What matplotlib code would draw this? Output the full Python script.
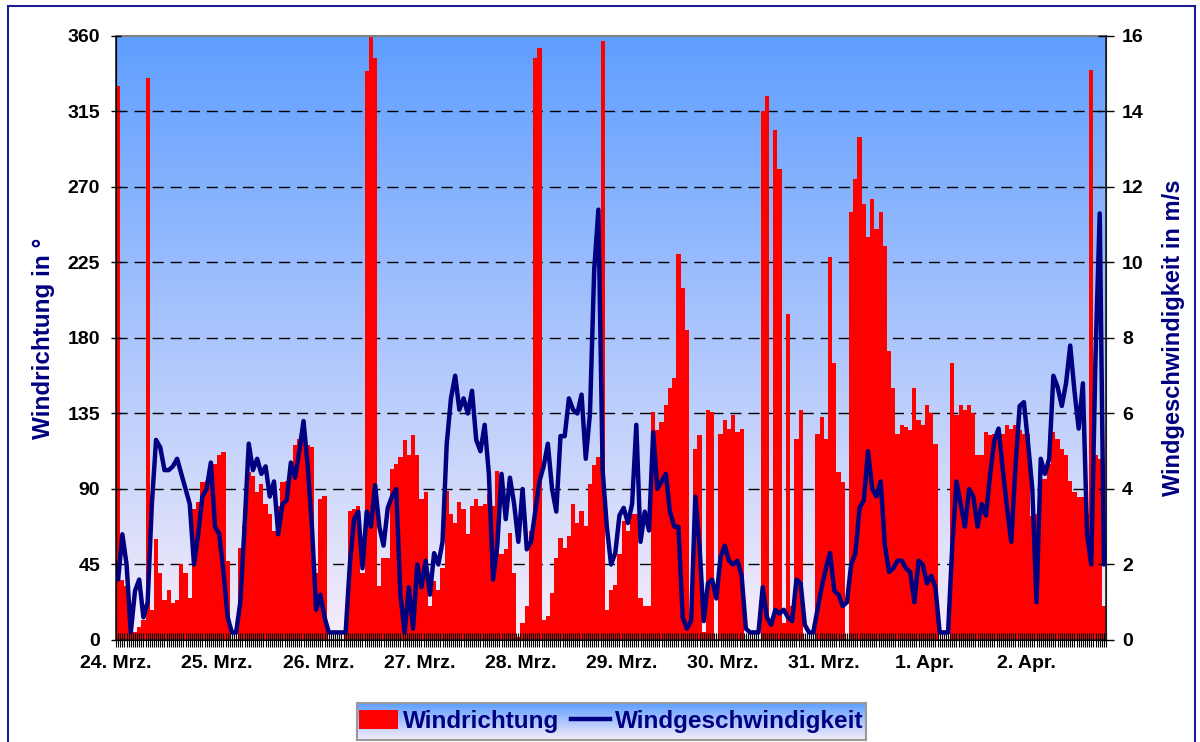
import numpy as np
import matplotlib
matplotlib.use("Agg")
import matplotlib.pyplot as plt
from matplotlib.patches import Rectangle
from matplotlib.ticker import FixedLocator

plt.rcParams['font.family'] = ['Liberation Sans', 'DejaVu Sans']
plt.rcParams['font.weight'] = 'bold'

# hourly values, starting 24. Mrz 00:00
direction = [
    330, 36, 32, 10, 5, 8, 12, 335, 18, 60, 40, 24,
    30, 22, 24, 45, 40, 25, 78, 82, 94, 95, 100, 105,
    110, 112, 47, 0, 0, 55, 68, 100, 98, 88, 93, 81,
    75, 65, 80, 94, 95, 101, 116, 120, 120, 116, 115, 40,
    84, 86, 0, 0, 0, 0, 5, 77, 78, 80, 40, 339,
    360, 347, 32, 49, 49, 102, 105, 109, 119, 110, 122, 110,
    84, 88, 20, 35, 30, 43, 89, 75, 70, 82, 78, 63,
    80, 84, 80, 81, 87, 80, 101, 51, 54, 64, 40, 2,
    10, 20, 65, 347, 353, 12, 14, 28, 49, 61, 55, 62,
    81, 70, 77, 68, 93, 104, 109, 357, 18, 30, 33, 51,
    71, 65, 75, 75, 25, 20, 20, 136, 125, 130, 140, 150,
    156, 230, 210, 185, 14, 114, 122, 5, 137, 136, 0, 123,
    131, 126, 134, 124, 126, 0, 0, 0, 0, 315, 324, 10,
    304, 281, 10, 194, 20, 120, 137, 0, 0, 0, 123, 133,
    120, 228, 165, 100, 94, 0, 255, 275, 300, 260, 240, 263,
    245, 255, 235, 172, 150, 123, 128, 127, 125, 150, 131, 128,
    140, 135, 117, 0, 0, 0, 165, 134, 140, 137, 140, 135,
    110, 110, 124, 122, 123, 124, 123, 128, 126, 128, 125, 123,
    123, 74, 75, 96, 96, 105, 124, 120, 114, 110, 95, 88,
    85, 85, 75, 340, 110, 108, 20,
]

speed = [
    1.6, 2.8, 2.0, 0.2, 1.3, 1.6, 0.6, 1.0, 3.6, 5.3, 5.1, 4.5,
    4.5, 4.6, 4.8, 4.4, 4.0, 3.6, 2.0, 2.8, 3.8, 4.0, 4.7, 3.0,
    2.8, 1.8, 0.6, 0.2, 0.2, 1.0, 3.0, 5.2, 4.5, 4.8, 4.4, 4.6,
    3.8, 4.2, 2.8, 3.6, 3.7, 4.7, 4.3, 5.0, 5.8, 4.6, 3.0, 0.8,
    1.2, 0.6, 0.2, 0.2, 0.2, 0.2, 0.2, 2.0, 3.2, 3.4, 1.9, 3.4,
    3.0, 4.1, 3.0, 2.5, 3.5, 3.8, 4.0, 1.2, 0.2, 1.4, 0.3, 2.0,
    1.4, 2.1, 1.2, 2.3, 2.0, 2.6, 5.2, 6.4, 7.0, 6.1, 6.4, 6.0,
    6.6, 5.3, 5.0, 5.7, 4.4, 1.6, 2.5, 4.4, 3.2, 4.3, 3.6, 2.6,
    4.0, 2.4, 2.6, 3.4, 4.2, 4.6, 5.2, 4.0, 3.4, 5.4, 5.4, 6.4,
    6.1, 6.0, 6.5, 4.8, 6.0, 9.8, 11.4, 4.5, 3.0, 2.0, 2.3, 3.3,
    3.5, 3.1, 3.6, 5.7, 2.6, 3.4, 2.9, 5.5, 4.0, 4.2, 4.4, 3.4,
    3.0, 3.0, 0.6, 0.3, 0.5, 3.8, 2.5, 0.5, 1.5, 1.6, 1.1, 2.2,
    2.5, 2.1, 2.0, 2.1, 1.7, 0.3, 0.2, 0.2, 0.2, 1.4, 0.6, 0.4,
    0.8, 0.7, 0.8, 0.6, 0.5, 1.6, 1.5, 0.4, 0.2, 0.2, 0.8, 1.4,
    1.9, 2.3, 1.3, 1.2, 0.9, 1.0, 2.0, 2.3, 3.5, 3.7, 5.0, 4.0,
    3.8, 4.2, 2.5, 1.8, 1.9, 2.1, 2.1, 1.9, 1.8, 1.0, 2.1, 2.0,
    1.5, 1.7, 1.4, 0.2, 0.2, 0.2, 2.5, 4.2, 3.6, 3.0, 4.0, 3.8,
    3.0, 3.6, 3.3, 4.4, 5.3, 5.6, 4.5, 3.5, 2.6, 4.6, 6.2, 6.3,
    5.2, 4.0, 1.0, 4.8, 4.4, 4.8, 7.0, 6.7, 6.2, 6.8, 7.8, 6.6,
    5.6, 6.8, 2.8, 2.0, 7.5, 11.3, 2.0,
]

day_labels = ['24. Mrz.', '25. Mrz.', '26. Mrz.', '27. Mrz.', '28. Mrz.',
              '29. Mrz.', '30. Mrz.', '31. Mrz.', '1. Apr.', '2. Apr.']

navy = '#000080'
hours = np.arange(len(direction)) + 0.5
n_hours = len(direction)

fig = plt.figure(figsize=(12, 7.42), dpi=100)
ax = fig.add_axes([0.0967, 0.1375, 0.825, 0.814])
ax.set_axisbelow(False)

# gradient background, blue at the top to pale lavender at the bottom
top_c = np.array([0.37, 0.62, 1.0])
bot_c = np.array([0.97, 0.93, 0.98])
t = np.linspace(0, 1, 256)[:, None]
grad = (bot_c * (1 - t) + top_c * t)[:, None, :]
ax.imshow(grad, extent=[0, 1, 0, 1], transform=ax.transAxes,
          aspect='auto', origin='lower', zorder=0)

for lev in range(45, 360, 45):
    ax.axhline(lev, color='black', lw=1.0, ls=(0, (8, 5)), zorder=1)

ax.bar(hours, direction, width=1.0, color='#ff0000', linewidth=0,
       zorder=2)

ax.set_xlim(0, n_hours)
ax.set_ylim(0, 360)
ax.set_yticks(range(0, 361, 45))
ax.set_xticks(np.arange(len(day_labels)) * 24)
ax.set_xticklabels(day_labels)
ax.xaxis.set_minor_locator(FixedLocator(np.arange(0, n_hours + 0.01, 0.5)))
ax.tick_params(axis='x', which='both', direction='inout', length=10,
               width=0.8, color='black', labelsize=14, pad=6)
ax.tick_params(axis='y', direction='inout', length=7, width=1,
               labelsize=14, pad=8)
ax.set_ylabel('Windrichtung in °', fontsize=17.5, color=navy,
              fontweight='bold', labelpad=9)
ax.spines['top'].set_color('#808080')
ax.spines['top'].set_linewidth(1.5)
for s in ['left', 'bottom']:
    ax.spines[s].set_color('#202020')
    ax.spines[s].set_linewidth(1.2)

ax2 = ax.twinx()
ax2.plot(hours, speed, color=navy, lw=3.2, solid_joinstyle='round',
         solid_capstyle='round', zorder=3)
ax2.set_ylim(0, 16)
ax2.set_yticks(range(0, 17, 2))
ax2.tick_params(axis='y', direction='inout', length=11, width=1,
                labelsize=14, pad=6)
ax2.set_ylabel('Windgeschwindigkeit in m/s', fontsize=17, color=navy,
               fontweight='bold', labelpad=13)
ax2.spines['top'].set_visible(False)
ax2.spines['right'].set_color('#202020')
ax2.spines['right'].set_linewidth(1.2)

# legend box with the same gradient
lax = fig.add_axes([0.2975, 0.003, 0.424, 0.049])
lax.imshow(grad, extent=[0, 1, 0, 1], aspect='auto', origin='lower')
lax.set_xlim(0, 1)
lax.set_ylim(0, 1)
lax.set_xticks([])
lax.set_yticks([])
for s in lax.spines.values():
    s.set_color('#9a9a9a')
    s.set_linewidth(1.5)
bar_h = Rectangle((0, 0), 1, 1, facecolor='#ff0000')
line_h = plt.Line2D([0], [0], color=navy, lw=3.2)
lax.legend([bar_h, line_h], ['Windrichtung', 'Windgeschwindigkeit'],
           loc='center', ncol=2, frameon=False, labelcolor=navy,
           prop={'size': 17.5, 'weight': 'bold'}, handlelength=1.6,
           handleheight=0.8, handletextpad=0.2, columnspacing=0.5,
           borderaxespad=0, borderpad=0)

# outer chart border
fig.patches.append(Rectangle((0.0067, -0.01), 0.989, 1.0019,
                             transform=fig.transFigure, fill=False,
                             edgecolor='#1c1c96', lw=1.5))

fig.savefig('out.png', dpi=100)
